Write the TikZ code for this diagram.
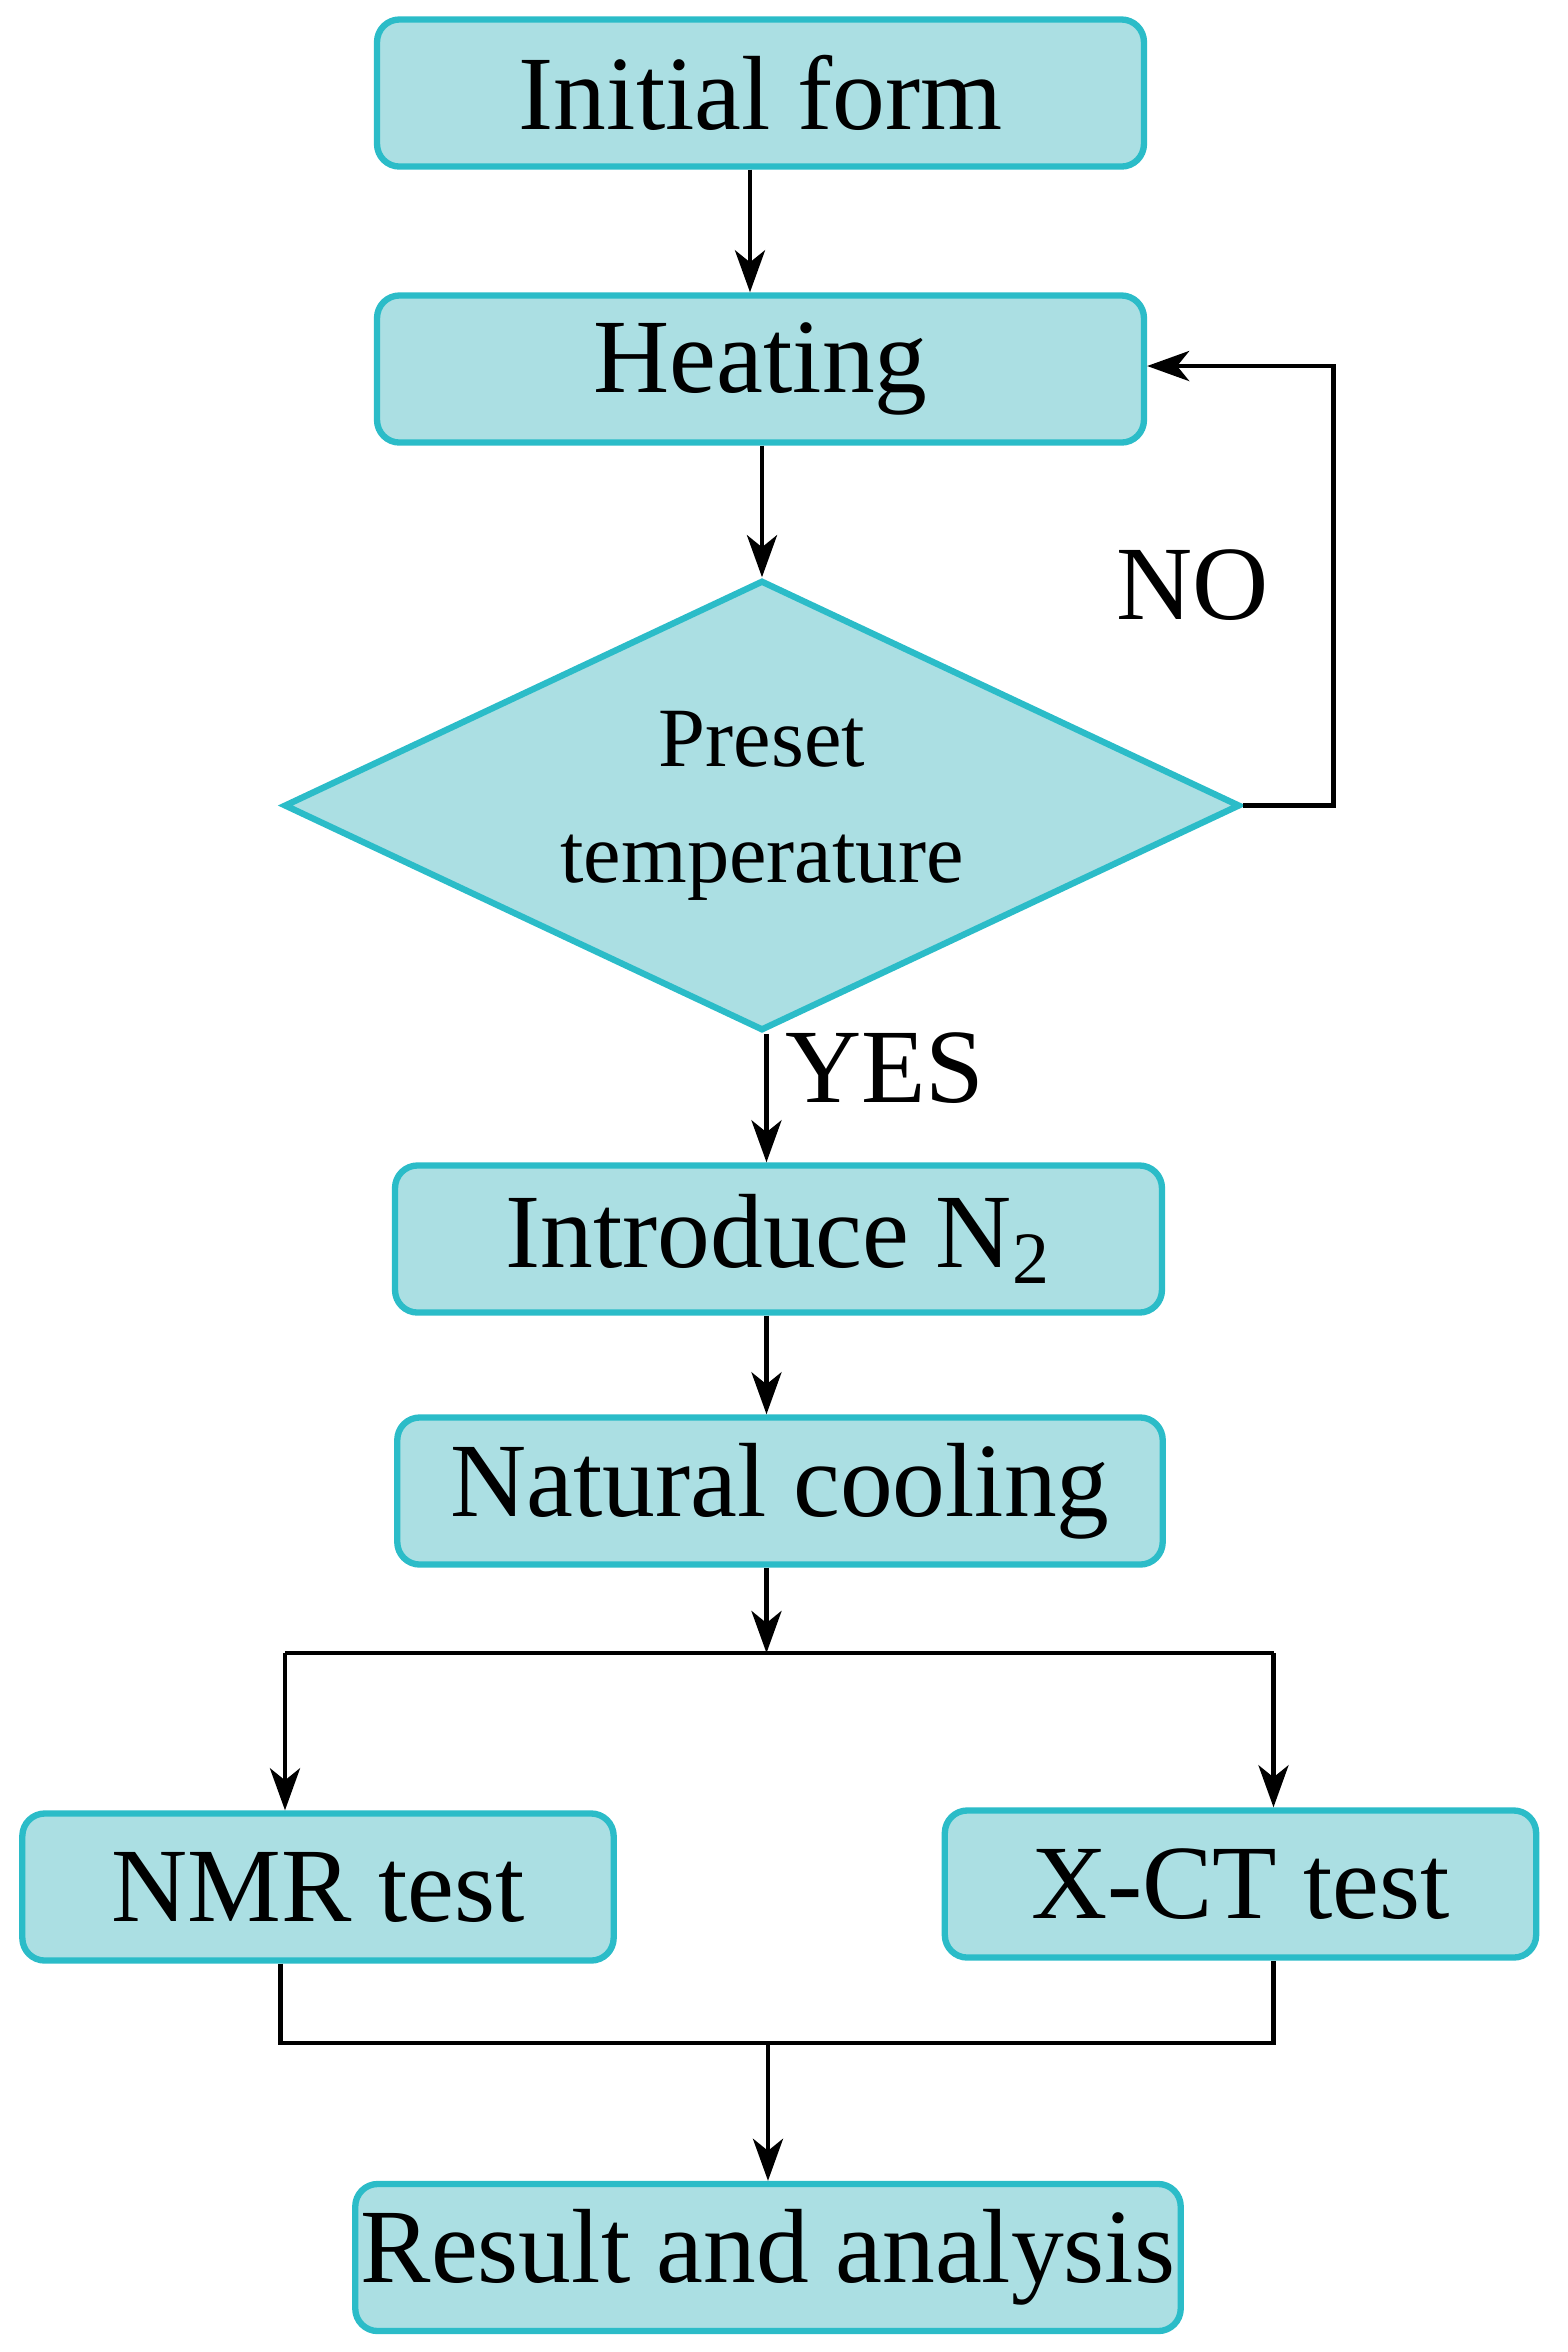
\documentclass[tikz,border=0pt]{standalone}
\usepackage{fontspec}
\setmainfont{Liberation Serif}
\usetikzlibrary{arrows.meta,shapes.geometric,calc}
\definecolor{boxfill}{HTML}{ABDFE3}
\definecolor{boxline}{HTML}{2BBCC8}
\tikzset{
  stage/.style={draw=boxline,fill=boxfill,line width=1.2pt,rounded corners=0.15cm,
    minimum height=0.98cm,inner sep=0pt,font=\fontsize{20}{24}\selectfont},
  check/.style={diamond,draw=boxline,fill=boxfill,line width=1.2pt,aspect=2.12,
    minimum width=6.37cm,minimum height=3.0cm,inner sep=0pt,align=center,
    font=\fontsize{16}{22}\selectfont},
  flow/.style={line width=0.9pt,-{Stealth[length=0.28cm,width=0.2cm,inset=0.08cm]}},
  link/.style={line width=0.9pt},
  tag/.style={font=\fontsize{20}{24}\selectfont},
}
\begin{document}
\begin{tikzpicture}[x=0.01cm,y=-0.01cm]
\useasboundingbox (0,0) rectangle (1045,1568);
\node[stage,minimum width=5.11cm] (init) at (507,62) {Initial form};
\node[stage,minimum width=5.11cm] (heat) at (507,246) {Heating};
\node[check] (preset) at (508,537) {Preset\\temperature};
\node[stage,minimum width=5.11cm] (nitro) at (519,826) {Introduce N\textsubscript{2}};
\node[stage,minimum width=5.10cm] (cool) at (520,994) {Natural cooling};
\node[stage,minimum width=3.94cm] (nmr) at (212,1258) {NMR test};
\node[stage,minimum width=3.94cm] (xct) at (827,1256) {X-CT test};
\node[stage,minimum width=5.50cm] (result) at (512,1505) {Result and analysis};
\node[tag] (no) at (795,390) {NO};
\node[tag] (yes) at (590,712) {YES};
% main line
\draw[flow] (init.south -| 500,0) -- (heat.north -| 500,0);
\draw[flow] (heat.south -| 508,0) -- (preset.north);
\draw[flow] (preset.south -| 511,0) -- (nitro.north -| 511,0);
\draw[flow] (nitro.south -| 511,0) -- (cool.north -| 511,0);
% loop back
\draw[flow] (preset.east) -- (889,537) -- (889,244) -- (heat.east |- 0,244);
% split
\coordinate (split) at (511,1102);
\draw[flow] (cool.south -| split) -- (split);
\draw[link] (190,1102) -- (849,1102);
\draw[flow] (190,1102) -- (nmr.north -| 190,0);
\draw[flow] (849,1102) -- (xct.north -| 849,0);
% join
\coordinate (join) at (512,1362);
\draw[link] (nmr.south -| 187,0) -- (187,1362) -- (849,1362) -- (xct.south -| 849,0);
\draw[flow] (join) -- (result.north -| join);
\end{tikzpicture}
\end{document}
